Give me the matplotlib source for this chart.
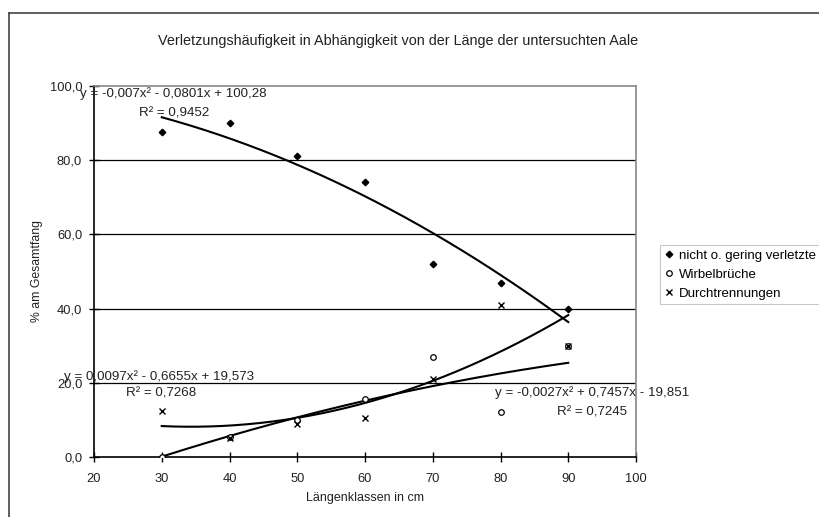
import numpy as np
import matplotlib
matplotlib.use("Agg")
import matplotlib.pyplot as plt
from matplotlib.lines import Line2D

plt.rcParams['font.family'] = ['Liberation Sans', 'DejaVu Sans']

# data
laengen = [30, 40, 50, 60, 70, 80, 90]
nicht_verletzt = [87.5, 90.0, 81.0, 74.0, 52.0, 47.0, 40.0]
wirbelbrueche = [0.0, 5.5, 10.0, 15.5, 27.0, 12.0, 30.0]
durchtrennungen = [12.5, 5.0, 9.0, 10.5, 21.0, 41.0, 30.0]

# polynomial trendline coefficients as printed on the chart
coef_nicht = [-0.007, -0.0801, 100.28]
coef_wirbel = [-0.0027, 0.7457, -19.851]
coef_durch = [0.0097, -0.6655, 19.573]

x_ticks = [20, 30, 40, 50, 60, 70, 80, 90, 100]
y_ticks = [0, 20, 40, 60, 80, 100]
y_ticklabels = ["0,0", "20,0", "40,0", "60,0", "80,0", "100,0"]

fig = plt.figure(figsize=(8.19, 5.17), dpi=100)
ax = fig.add_axes([94 / 819, 60 / 517, 542 / 819, 371 / 517])

# page frame lines (left and top only)
fig.add_artist(Line2D([9 / 819, 9 / 819], [0, 1 - 13 / 517], color='#444444', lw=1.2))
fig.add_artist(Line2D([9 / 819, 1], [1 - 13 / 517, 1 - 13 / 517], color='#444444', lw=1.2))

for yv in y_ticks[1:-1]:
    ax.axhline(yv, color='black', lw=0.9, zorder=1)

xs = np.linspace(laengen[0], laengen[-1], 200)
for coef in (coef_nicht, coef_wirbel, coef_durch):
    ax.plot(xs, np.polyval(coef, xs), color='black', lw=1.5, zorder=2)

ax.plot(laengen, nicht_verletzt, linestyle='none', marker='D', ms=3.3,
        color='black', label='nicht o. gering verletzte', zorder=3)
ax.plot(laengen, wirbelbrueche, linestyle='none', marker='o', ms=4,
        mfc='white', mec='black', mew=0.9, label='Wirbelbrüche', zorder=3)
ax.plot(laengen, durchtrennungen, linestyle='none', marker='x', ms=4,
        color='black', mew=1.0, label='Durchtrennungen', zorder=3)

ax.set_xlim(20, 100)
ax.set_ylim(0, 100)
ax.set_xticks(x_ticks)
ax.set_yticks(y_ticks)
ax.set_yticklabels(y_ticklabels)
ax.tick_params(direction='inout', length=7, width=1, labelsize=9.3,
               colors='black', labelcolor='#222222')
ax.tick_params(axis='x', pad=8)
ax.tick_params(axis='y', pad=5)

for side in ('left', 'bottom'):
    ax.spines[side].set_color('black')
    ax.spines[side].set_linewidth(1.2)
for side in ('top', 'right'):
    ax.spines[side].set_color('#888888')
    ax.spines[side].set_linewidth(1.2)

ax.set_xlabel('Längenklassen in cm', fontsize=9, color='#222222', labelpad=5)
ax.set_ylabel('% am Gesamtfang', fontsize=8.8, color='#222222', labelpad=5)
fig.text(398 / 819, 1 - 41 / 517,
         'Verletzungshäufigkeit in Abhängigkeit von der Länge der untersuchten Aale',
         ha='center', va='center', fontsize=10.4, color='#222222')

eq_kw = dict(fontsize=9.6, color='#222222', va='center', ha='left', zorder=4,
             clip_on=False)
ax.text(17.9, 98.0, 'y = -0,007x² - 0,0801x + 100,28', **eq_kw)
ax.text(26.7, 92.6, 'R² = 0,9452', **eq_kw)
ax.text(15.5, 21.6, 'y = 0,0097x² - 0,6655x + 19,573', **eq_kw)
ax.text(24.7, 17.1, 'R² = 0,7268', **eq_kw)
ax.text(79.2, 17.4, 'y = -0,0027x² + 0,7457x - 19,851', **eq_kw)
ax.text(88.4, 12.1, 'R² = 0,7245', **eq_kw)

leg = fig.legend(loc='upper left', bbox_to_anchor=(660 / 819, 1 - 245 / 517),
                 fontsize=9.5, frameon=True, fancybox=False, handlelength=0.6,
                 handletextpad=0.5, borderpad=0.35, labelspacing=0.5,
                 borderaxespad=0)
leg.get_frame().set_edgecolor('#bbbbbb')
leg.get_frame().set_linewidth(0.8)

fig.savefig('out.png', dpi=100)
